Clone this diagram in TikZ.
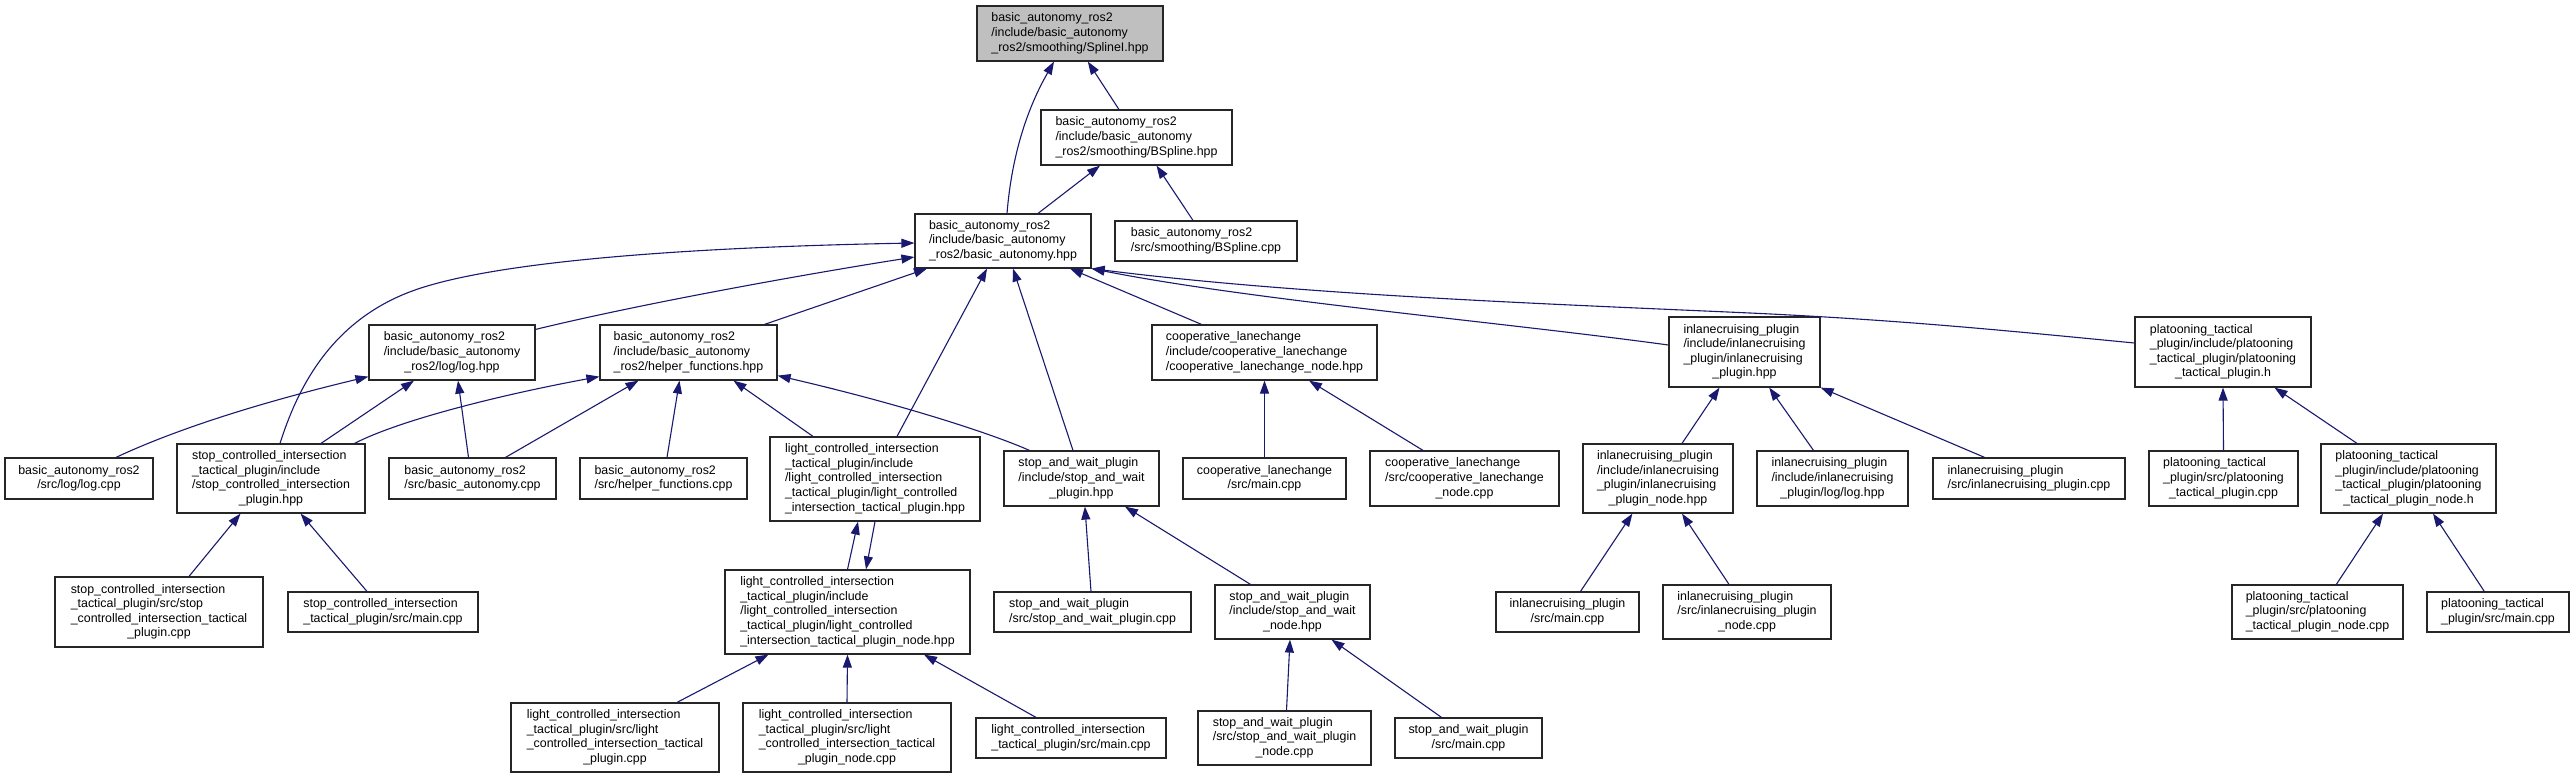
\documentclass[tikz,border=0pt]{standalone}
\usepackage{fontspec}
\setmainfont{Liberation Sans}
\usetikzlibrary{arrows.meta}
\definecolor{edgeblue}{HTML}{191970}
\definecolor{rootgray}{HTML}{BFBFBF}
\newcommand\lbl[2]{\begin{tabular}{@{}l@{}}#1\\\multicolumn{1}{@{}c@{}}{#2}\end{tabular}}
\begin{document}
\begin{tikzpicture}[x=1pt,y=-1pt,
  file/.style={draw=black!85, line width=1.2pt, fill=white, inner sep=0pt, anchor=center,
    font=\fontsize{12.4pt}{14.6pt}\selectfont},
  rootfile/.style={file, fill=rootgray},
  bx/.style n args={4}{minimum width={(#3-#1)*1pt}, minimum height={(#4-#2)*1pt}, at={({(#1+#3)/2},{(#2+#4)/2})}},
  incl/.style={draw=edgeblue, line width=1.1pt, -{Triangle[length=13pt,width=9pt]}}]
\fill[white] (0,0) rectangle (2574,779);
\useasboundingbox (0,0) rectangle (2574,779);
% nodes
\node[rootfile, bx={977}{6}{1163}{61}] (root) {\lbl{basic\_autonomy\_ros2\\/include/basic\_autonomy}{\_ros2/smoothing/SplineI.hpp}};
\node[file, bx={1041}{110}{1232}{165}] (bsh) {\lbl{basic\_autonomy\_ros2\\/include/basic\_autonomy}{\_ros2/smoothing/BSpline.hpp}};
\node[file, bx={915}{214}{1091}{268}] (ba) {\lbl{basic\_autonomy\_ros2\\/include/basic\_autonomy}{\_ros2/basic\_autonomy.hpp}};
\node[file, bx={1115}{221}{1297}{261}] (bscpp) {\lbl{basic\_autonomy\_ros2}{/src/smoothing/BSpline.cpp}};
\node[file, bx={369}{325}{535}{380}] (logh) {\lbl{basic\_autonomy\_ros2\\/include/basic\_autonomy}{\_ros2/log/log.hpp}};
\node[file, bx={600}{325}{777}{380}] (helph) {\lbl{basic\_autonomy\_ros2\\/include/basic\_autonomy}{\_ros2/helper\_functions.hpp}};
\node[file, bx={1152}{325}{1377}{380}] (coopnh) {\lbl{cooperative\_lanechange\\/include/cooperative\_lanechange}{/cooperative\_lanechange\_node.hpp}};
\node[file, bx={1669}{317}{1820}{387}] (ich) {\lbl{inlanecruising\_plugin\\/include/inlanecruising\\\_plugin/inlanecruising}{\_plugin.hpp}};
\node[file, bx={2135}{317}{2311}{387}] (pth) {\lbl{platooning\_tactical\\\_plugin/include/platooning\\\_tactical\_plugin/platooning}{\_tactical\_plugin.h}};
\node[file, bx={5}{458}{153}{499}] (logcpp) {\lbl{basic\_autonomy\_ros2}{/src/log/log.cpp}};
\node[file, bx={177}{444}{365}{513}] (sch) {\lbl{stop\_controlled\_intersection\\\_tactical\_plugin/include\\/stop\_controlled\_intersection}{\_plugin.hpp}};
\node[file, bx={389}{458}{556}{499}] (bacpp) {\lbl{basic\_autonomy\_ros2}{/src/basic\_autonomy.cpp}};
\node[file, bx={580}{458}{747}{499}] (helpcpp) {\lbl{basic\_autonomy\_ros2}{/src/helper\_functions.cpp}};
\node[file, bx={770}{437}{980}{521}] (lch) {\lbl{light\_controlled\_intersection\\\_tactical\_plugin/include\\/light\_controlled\_intersection\\\_tactical\_plugin/light\_controlled}{\_intersection\_tactical\_plugin.hpp}};
\node[file, bx={1004}{451}{1159}{506}] (swh) {\lbl{stop\_and\_wait\_plugin\\/include/stop\_and\_wait}{\_plugin.hpp}};
\node[file, bx={1183}{458}{1346}{499}] (coopmain) {\lbl{cooperative\_lanechange}{/src/main.cpp}};
\node[file, bx={1370}{451}{1559}{506}] (coopncpp) {\lbl{cooperative\_lanechange\\/src/cooperative\_lanechange}{\_node.cpp}};
\node[file, bx={1583}{444}{1733}{513}] (icnh) {\lbl{inlanecruising\_plugin\\/include/inlanecruising\\\_plugin/inlanecruising}{\_plugin\_node.hpp}};
\node[file, bx={1757}{451}{1908}{506}] (iclog) {\lbl{inlanecruising\_plugin\\/include/inlanecruising}{\_plugin/log/log.hpp}};
\node[file, bx={1933}{458}{2125}{499}] (icpcpp) {\lbl{inlanecruising\_plugin}{/src/inlanecruising\_plugin.cpp}};
\node[file, bx={2149}{451}{2298}{506}] (ptpcpp) {\lbl{platooning\_tactical\\\_plugin/src/platooning}{\_tactical\_plugin.cpp}};
\node[file, bx={2321}{444}{2496}{513}] (ptnh) {\lbl{platooning\_tactical\\\_plugin/include/platooning\\\_tactical\_plugin/platooning}{\_tactical\_plugin\_node.h}};
\node[file, bx={55}{577}{263}{647}] (scpcpp) {\lbl{stop\_controlled\_intersection\\\_tactical\_plugin/src/stop\\\_controlled\_intersection\_tactical}{\_plugin.cpp}};
\node[file, bx={288}{592}{478}{632}] (scmain) {\lbl{stop\_controlled\_intersection}{\_tactical\_plugin/src/main.cpp}};
\node[file, bx={725}{570}{970}{654}] (lcnh) {\lbl{light\_controlled\_intersection\\\_tactical\_plugin/include\\/light\_controlled\_intersection\\\_tactical\_plugin/light\_controlled}{\_intersection\_tactical\_plugin\_node.hpp}};
\node[file, bx={994}{592}{1191}{632}] (swpcpp) {\lbl{stop\_and\_wait\_plugin}{/src/stop\_and\_wait\_plugin.cpp}};
\node[file, bx={1215}{585}{1370}{639}] (swnh) {\lbl{stop\_and\_wait\_plugin\\/include/stop\_and\_wait}{\_node.hpp}};
\node[file, bx={1496}{592}{1639}{632}] (icmain) {\lbl{inlanecruising\_plugin}{/src/main.cpp}};
\node[file, bx={1663}{585}{1831}{639}] (icncpp) {\lbl{inlanecruising\_plugin\\/src/inlanecruising\_plugin}{\_node.cpp}};
\node[file, bx={2232}{585}{2403}{639}] (ptncpp) {\lbl{platooning\_tactical\\\_plugin/src/platooning}{\_tactical\_plugin\_node.cpp}};
\node[file, bx={2427}{592}{2569}{632}] (ptmain) {\lbl{platooning\_tactical}{\_plugin/src/main.cpp}};
\node[file, bx={511}{703}{719}{772}] (lcpcpp) {\lbl{light\_controlled\_intersection\\\_tactical\_plugin/src/light\\\_controlled\_intersection\_tactical}{\_plugin.cpp}};
\node[file, bx={743}{703}{951}{772}] (lcncpp) {\lbl{light\_controlled\_intersection\\\_tactical\_plugin/src/light\\\_controlled\_intersection\_tactical}{\_plugin\_node.cpp}};
\node[file, bx={976}{718}{1166}{758}] (lcmain) {\lbl{light\_controlled\_intersection}{\_tactical\_plugin/src/main.cpp}};
\node[file, bx={1198}{711}{1371}{765}] (swncpp) {\lbl{stop\_and\_wait\_plugin\\/src/stop\_and\_wait\_plugin}{\_node.cpp}};
\node[file, bx={1395}{718}{1542}{758}] (swmain) {\lbl{stop\_and\_wait\_plugin}{/src/main.cpp}};
% edges: top
\draw[incl] ([xshift=-17.6pt]bsh.north) -- ([xshift=17.8pt]root.south);
\draw[incl] ([xshift=4pt]ba.north) .. controls (1013,140) and (1035,95) .. ([xshift=-16pt]root.south);
\draw[incl] ([xshift=35pt]ba.north) -- ([xshift=-36.5pt]bsh.south);
\draw[incl] ([xshift=-13pt]bscpp.north) -- ([xshift=20pt]bsh.south);
% into basic_autonomy.hpp
\draw[incl] ([xshift=9pt]sch.north) .. controls (297,390) and (330,320) .. (415,290) .. controls (500,260) and (700,247) .. ([yshift=-2pt]ba.west);
\draw[incl] ([yshift=-5pt]logh.north east) .. controls (640,304) and (800,275) .. ([yshift=-16pt]ba.west);
\draw[incl] ([xshift=76pt]helph.north) -- ([xshift=-76pt]ba.south);
\draw[incl] ([xshift=22pt]lch.north) -- ([xshift=-16pt]ba.south);
\draw[incl] ([xshift=-8.5pt]swh.north) -- ([xshift=10pt]ba.south);
\draw[incl] ([xshift=-63pt]coopnh.north) -- ([xshift=67pt]ba.south);
\draw[incl] ([yshift=7pt]ich.west) .. controls (1500,322) and (1250,300) .. (ba.south east);
\draw[incl] ([yshift=9pt]pth.west) .. controls (2000,330) and (1900,320) .. (1750,313) .. controls (1550,304) and (1300,295) .. (ba.south east);
% into log.hpp
\draw[incl] ([xshift=37pt]logcpp.north) .. controls (170,432) and (250,405) .. ([yshift=4pt]logh.south west);
\draw[incl] ([xshift=50pt]sch.north) -- ([xshift=-38pt]logh.south);
\draw[incl] ([xshift=-4pt]bacpp.north) -- ([xshift=6pt]logh.south);
% into helper_functions.hpp
\draw[incl] ([xshift=83.5pt]sch.north) .. controls (400,420) and (500,395) .. ([yshift=4pt]helph.south west);
\draw[incl] ([xshift=33pt]bacpp.north) -- ([xshift=-50pt]helph.south);
\draw[incl] ([xshift=3.5pt]helpcpp.north) -- ([xshift=-9pt]helph.south);
\draw[incl] ([xshift=-62pt]lch.north) -- ([xshift=45pt]helph.south);
\draw[incl] ([xshift=-52pt]swh.north) .. controls (990,433) and (900,404) .. ([yshift=5pt]helph.south east);
% stop controlled
\draw[incl] ([xshift=30pt]scpcpp.north) -- ([xshift=-30.5pt]sch.south);
\draw[incl] ([xshift=-16pt]scmain.north) -- ([xshift=29.6pt]sch.south);
% light controlled
\draw[incl] (lcnh.north) -- ([xshift=-17pt]lch.south);
\draw[incl] (lch.south) -- ([xshift=18.5pt]lcnh.north);
\draw[incl] ([xshift=62pt]lcpcpp.north) -- ([xshift=-79pt]lcnh.south);
\draw[incl] (lcncpp.north) -- (lcnh.south);
\draw[incl] ([xshift=-35pt]lcmain.north) -- ([xshift=76.5pt]lcnh.south);
% stop and wait
\draw[incl] ([xshift=-1.5pt]swpcpp.north) -- ([xshift=3.4pt]swh.south);
\draw[incl] ([xshift=-42pt]swnh.north) -- ([xshift=43.5pt]swh.south);
\draw[incl] ([xshift=2pt]swncpp.north) -- ([xshift=-2.5pt]swnh.south);
\draw[incl] ([xshift=-27pt]swmain.north) -- ([xshift=39pt]swnh.south);
% cooperative
\draw[incl] (coopmain.north) -- (coopnh.south);
\draw[incl] ([xshift=-41.5pt]coopncpp.north) -- ([xshift=44.5pt]coopnh.south);
% inlanecruising
\draw[incl] ([xshift=24pt]icnh.north) -- ([xshift=-25pt]ich.south);
\draw[incl] ([xshift=-19pt]iclog.north) -- ([xshift=24.7pt]ich.south);
\draw[incl] ([xshift=-44.4pt]icpcpp.north) -- (ich.south east);
\draw[incl] ([xshift=13pt]icmain.north) -- ([xshift=-25.6pt]icnh.south);
\draw[incl] ([xshift=-18pt]icncpp.north) -- ([xshift=24pt]icnh.south);
% platooning
\draw[incl] (ptpcpp.north) -- (pth.south);
\draw[incl] ([xshift=-51.5pt]ptnh.north) -- ([xshift=51.5pt]pth.south);
\draw[incl] ([xshift=18.8pt]ptncpp.north) -- ([xshift=-25.5pt]ptnh.south);
\draw[incl] ([xshift=-13.7pt]ptmain.north) -- ([xshift=24.5pt]ptnh.south);
\end{tikzpicture}
\end{document}
